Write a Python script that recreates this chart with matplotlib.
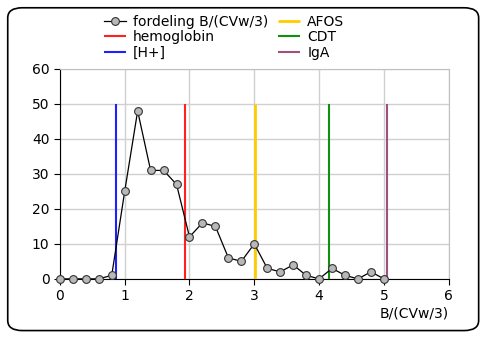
import numpy as np
import matplotlib.pyplot as plt
from matplotlib.patches import FancyBboxPatch

x = np.arange(26) * 0.2
counts = [0, 0, 0, 0, 1, 25, 48, 31, 31, 27, 12, 16, 15, 6, 5, 10, 3, 2, 4, 1, 0, 3, 1, 0, 2, 0]

markers = ['hemoglobin', '[H+]', 'AFOS', 'CDT', 'IgA']
marker_x = [1.93, 0.86, 3.01, 4.15, 5.05]
marker_col = ['#ff2020', '#2020ff', '#ffcc00', '#109010', '#a05080']

plt.rcParams['font.family'] = ['DejaVu Sans']

fig = plt.figure(figsize=(4.83, 3.38), dpi=100)
fig.patches.append(FancyBboxPatch((0.016, 0.022), 0.975, 0.955, boxstyle='round,pad=0,rounding_size=0.03',
                                  transform=fig.transFigure, fc='white', ec='black', lw=1.2, zorder=-10))
ax = fig.add_axes([0.124, 0.175, 0.805, 0.621])
ax.patch.set_alpha(0)

h_dist, = ax.plot(x, counts, color='black', lw=0.9, marker='o', ms=5.6, clip_on=False,
                  mfc='#b8b8b8', mec='#333333', mew=0.8, zorder=4, label='fordeling B/(CVw/3)')
handles = {}
for name, xv, c in zip(markers, marker_x, marker_col):
    handles[name] = ax.vlines(xv, 0, 50, color=c, lw=1.5 if name != 'AFOS' else 2, zorder=3, label=name)

ax.set_xlim(0, 6)
ax.set_ylim(0, 60)
ax.set_xticks(range(7))
ax.set_yticks(range(0, 61, 10))
ax.grid(color='#d0d0d0', lw=1)
ax.set_axisbelow(True)
for s in ['top', 'right']:
    ax.spines[s].set_color('#c0c0c0')
ax.tick_params(labelsize=10, length=4, direction='out')
ax.set_xlabel('B/(CVw/3)', fontsize=10, loc='right', labelpad=2)

order = [h_dist, handles['hemoglobin'], handles['[H+]'], handles['AFOS'], handles['CDT'], handles['IgA']]
fig.legend(handles=order, labels=[h.get_label() for h in order], ncol=2, frameon=False,
           loc='upper left', bbox_to_anchor=(0.195, 0.985), fontsize=10,
           handlelength=1.6, labelspacing=0.1, columnspacing=0.7, handletextpad=0.5, borderpad=0.2)

fig.savefig('out.png', dpi=100)
